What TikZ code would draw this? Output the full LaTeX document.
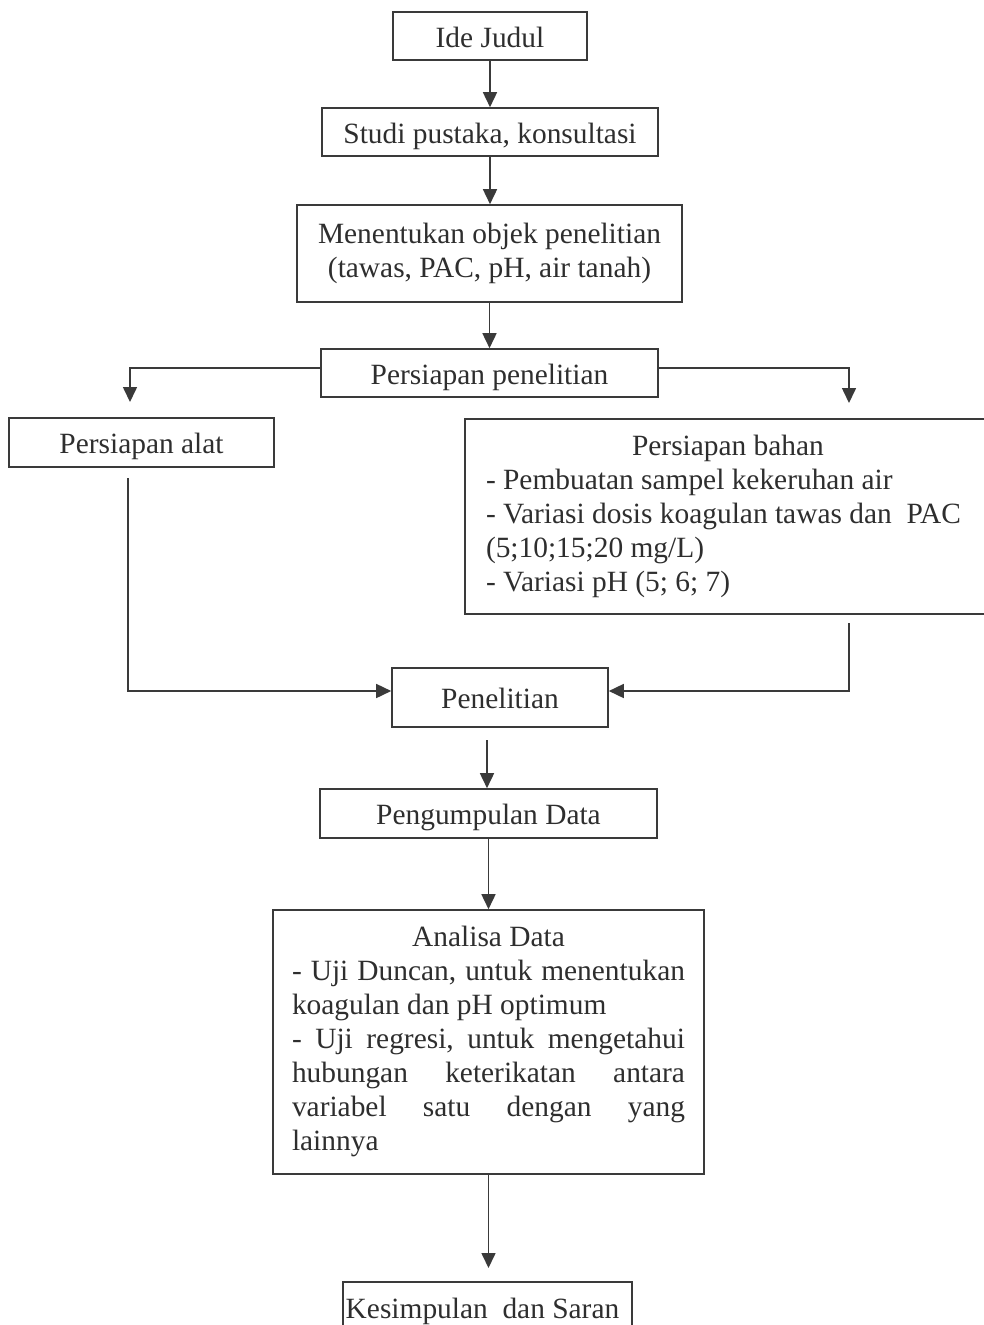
\documentclass[tikz,border=0pt]{standalone}
\usepackage{fontspec}
\setmainfont{Liberation Serif}
\usetikzlibrary{arrows.meta}
\definecolor{ink}{HTML}{2E2E2E}
\definecolor{lncol}{HTML}{3A3A3A}
\begin{document}
\begin{tikzpicture}[x=1pt,y=-1pt,
  basebox/.style={draw=lncol, line width=1.6pt, text=ink, font=\fontsize{29.4}{34}\selectfont, inner sep=0pt,
    execute at begin node={\spaceskip=0pt\xspaceskip=0pt}},
  onebox/.style={basebox, align=center, text height=22pt, text depth=0pt},
  multibox/.style={basebox},
  arr/.style={draw=lncol, line width=1.6pt, -{Triangle[width=14pt,length=15pt]}}]
\useasboundingbox (0,0) rectangle (984,1325);
\clip (0,0) rectangle (984,1325);

\node[onebox, minimum width=194pt, minimum height=48pt] (ide) at (490,36) {Ide Judul};
\node[onebox, minimum width=336pt, minimum height=48pt] (studi) at (490,132) {Studi pustaka, konsultasi};
\node[multibox, align=center, minimum width=385pt, minimum height=97pt] (obj) at (489.5,253.5)
  {\strut Menentukan objek penelitian\\\strut (tawas, PAC, pH, air tanah)};
\node[onebox, minimum width=337pt, minimum height=48pt] (pp) at (489.5,373) {Persiapan penelitian};
\node[onebox, minimum width=265pt, minimum height=49pt] (alat) at (141.5,442.5) {Persiapan alat};
\node[multibox, text width=484pt, inner xsep=21pt, minimum height=195pt, align=left] (bahan) at (728,516.5)
  {\makebox[484pt]{\strut Persiapan bahan}\\
   \strut - Pembuatan sampel kekeruhan air\\
   \strut - Variasi dosis koagulan tawas dan~ PAC\\
   \strut (5;10;15;20 mg/L)\\
   \strut - Variasi pH (5; 6; 7)};
\node[onebox, minimum width=216pt, minimum height=59pt] (pen) at (500,697.5) {Penelitian};
\node[onebox, minimum width=337pt, minimum height=49pt] (peng) at (488.5,813.5) {Pengumpulan Data};
\node[multibox, text width=393pt, inner xsep=19pt, minimum height=264pt, align=left] (ana) at (488.5,1042)
  {\makebox[393pt]{\strut Analisa Data}\\
   \makebox[393pt][l]{\strut -\hfill Uji\hfill Duncan,\hfill untuk\hfill menentukan}\\
   \strut koagulan dan pH optimum\\
   \makebox[393pt][l]{\strut -\hfill Uji\hfill regresi,\hfill untuk\hfill mengetahui}\\
   \makebox[393pt][l]{\strut hubungan\hfill keterikatan\hfill antara}\\
   \makebox[393pt][l]{\strut variabel\hfill satu\hfill dengan\hfill yang}\\
   \strut lainnya};
\node[onebox, text depth=6pt, minimum width=289pt, minimum height=56pt] (kes) at (487.5,1310) {Kesimpulan~ dan Saran\hspace{10pt}};

\coordinate (la) at (130,402);
\coordinate (ra) at (849,403);
\coordinate (a1) at (128,478);
\coordinate (b1) at (849,623);
\coordinate (p1) at (487,740);
\coordinate (k1) at (488.5,1268);

\draw[arr] (ide.south) -- (studi.north);
\draw[arr] (studi.south) -- (obj.north -| studi.south);
\draw[arr] (obj.south) -- (pp.north);
\draw[arr] ([yshift=5pt]pp.west) -| (la);
\draw[arr] ([yshift=5pt]pp.east) -| (ra);
\draw[arr] (a1) |- ([yshift=6.5pt]pen.west);
\draw[arr] (b1) |- ([yshift=6.5pt]pen.east);
\draw[arr] (p1) -- (p1 |- peng.north);
\draw[arr] (peng.south) -- (ana.north);
\draw[arr] (ana.south) -- (k1);
\end{tikzpicture}
\end{document}
